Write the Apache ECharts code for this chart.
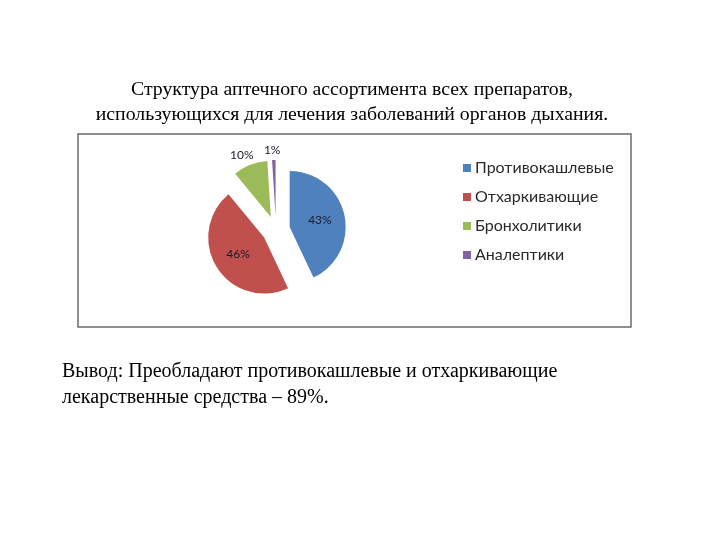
<!DOCTYPE html>
<html><head><meta charset="utf-8">
<script src="https://cdn.jsdelivr.net/npm/echarts@6/dist/echarts.min.js"></script>
<style>html,body{margin:0;padding:0;background:#fff}#c{width:720px;height:540px}</style>
</head><body><div id="c"></div>
<script>
var categories = ['Противокашлевые', 'Отхаркивающие', 'Бронхолитики', 'Аналептики'];
var values = [43, 46, 10, 1];
var colors = ['#4F81BD', '#C0504D', '#9BBB59', '#8064A2'];
var labelPos = ['inside', 'inside', 'outside', 'outside'];
var titleLines = ['Структура аптечного ассортимента всех препаратов,', 'использующихся для лечения заболеваний органов дыхания.'];
var conclusionLines = ['Вывод: Преобладают противокашлевые и отхаркивающие', 'лекарственные средства – 89%.'];

var labelShift = [0, 0, -7, -7];
var chart = echarts.init(document.getElementById('c'));
var data = categories.map(function (n, i) {
  return {
    name: n, value: values[i], selected: true,
    itemStyle: { color: colors[i] },
    label: { position: labelPos[i], distanceToLabelLine: labelShift[i] },
    labelLine: { show: false, length: 10, length2: 0 }
  };
});
chart.setOption({
  animation: false,
  title: [{
    text: titleLines.join('\n'), left: 347, top: 72, textAlign: 'center',
    textStyle: { fontFamily: 'Liberation Serif', fontSize: 19.8, fontWeight: 'normal', color: '#000', lineHeight: 25 }
  }, {
    text: conclusionLines.join('\n'), left: 57, top: 354,
    textStyle: { fontFamily: 'Liberation Serif', fontSize: 20, fontWeight: 'normal', color: '#000', lineHeight: 26 }
  }],
  graphic: [{
    type: 'rect', shape: { x: 78, y: 134, width: 553, height: 193 },
    style: { fill: 'none', stroke: '#6b6b6b', lineWidth: 1.5 }, z: -1
  }],
  legend: {
    orient: 'vertical', left: 458, top: 155, itemWidth: 8, itemHeight: 8, itemGap: 13,
    icon: 'rect', data: categories, selectedMode: false,
    textStyle: { fontFamily: 'Lato', fontSize: 16, color: '#2a2a2a', padding: [0, 0, 0, -1] }
  },
  series: [{
    type: 'pie', center: [276, 230], radius: 56, startAngle: 90, clockwise: true,
    selectedMode: 'multiple', selectedOffset: 14, avoidLabelOverlap: false,
    label: { formatter: '{d}%', fontFamily: 'Lato', fontSize: 12, color: '#1a1a2e' },
    labelLine: { show: false, length: 10, length2: 0 },
    emphasis: { disabled: true },
    data: data
  }]
});
</script></body></html>
